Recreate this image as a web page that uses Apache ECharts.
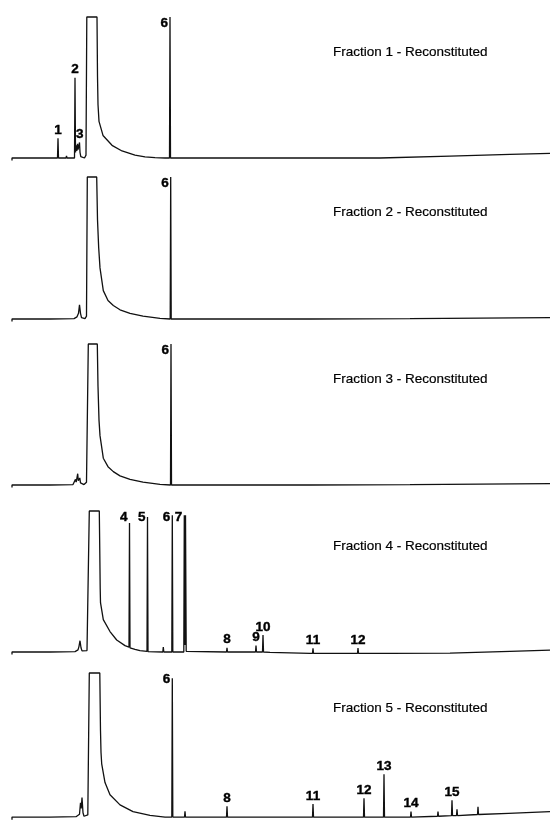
<!DOCTYPE html>
<html>
<head>
<meta charset="utf-8">
<script src="https://cdn.jsdelivr.net/npm/echarts@6/dist/echarts.min.js"></script>
<style>
  html, body { margin: 0; padding: 0; background: #fff; }
  #chart { width: 550px; height: 820px; }
</style>
</head>
<body>
<div id="chart"></div>
<script>
// Gas chromatograms of the five reconstituted fractions.
// x: retention time (min), y: detector response (% of full scale; 100 = off-scale).

const fractionTitles = [
  'Fraction 1 - Reconstituted',
  'Fraction 2 - Reconstituted',
  'Fraction 3 - Reconstituted',
  'Fraction 4 - Reconstituted',
  'Fraction 5 - Reconstituted'
];

const trace1 = [
  [0.2, -1.8], [0.2, 0], [2, 0.1], [4, 0], [4.75, 0], [4.8, 14], [4.85, 0],
  [5.6, 0], [5.65, 1.5], [5.7, 0], [6.45, 0], [6.5, 57], [6.55, 4], [6.62, 9],
  [6.68, 5], [6.75, 10], [6.8, 6], [6.87, 8], [6.95, 11], [7.0, 4], [7.08, 1],
  [7.18, 0], [7.45, 0], [7.6, 2], [7.68, 100], [8.7, 100], [8.75, 58], [8.8, 38],
  [8.9, 26], [9.3, 16], [10.2, 9], [11.2, 5], [12.5, 2], [13.5, 0.8], [14.5, 0.2],
  [15.5, 0], [15.95, 0], [16.0, 100], [16.05, 0], [25, 0], [37, 0], [44, 1.3], [50, 2.5], [54, 3.3]
];

const trace2 = [
  [0.2, -1.8], [0.2, 0], [4, 0], [6.4, 0.3], [6.7, 1.5], [6.85, 4], [6.95, 10],
  [7.05, 4], [7.15, 1], [7.3, 0.3], [7.5, 0.3], [7.65, 2], [7.73, 100], [8.67, 100],
  [8.75, 70], [8.87, 50], [9.0, 36], [9.33, 20], [9.8, 13], [10.33, 9.5], [11, 6.5],
  [12, 4], [13.3, 2], [15, 0.5], [16.02, 0], [16.07, 100], [16.12, 0],
  [30, 0], [40, 0.3], [54, 1]
];

const trace3 = [
  [0.2, -1.8], [0.2, 0], [4, 0], [6.3, 0.3], [6.5, 1], [6.55, 4], [6.62, 2],
  [6.7, 3], [6.77, 8], [6.83, 3], [6.9, 4], [6.98, 5], [7.05, 1.5], [7.15, 0.5],
  [7.4, 0.3], [7.65, 2], [7.83, 100], [8.73, 100], [8.8, 70], [8.9, 46], [9.0, 35],
  [9.33, 19], [9.8, 13], [10.33, 9.5], [11, 6.5], [12, 4], [13.3, 2], [15, 0.5],
  [16.05, 0], [16.1, 100], [16.15, 0], [30, 0], [40, 0.3], [54, 1]
];

const trace4 = [
  [0.2, -1.8], [0.2, 0], [4, 0], [6.5, 0.3], [6.8, 1.5], [6.9, 4], [7.0, 8],
  [7.1, 3], [7.2, 0.8], [7.4, 0.3], [7.7, 1], [7.93, 100], [8.93, 100], [8.98, 70],
  [9.02, 45], [9.05, 35], [9.33, 23], [10, 14.5], [10.67, 8.5], [11.5, 4.5], [11.9, 3.5],
  [11.95, 91.5], [12.0, 3], [12.5, 1.8], [13.0, 1], [13.7, 0.4], [13.75, 95.7],
  [13.8, 0.2], [15.28, 0], [15.33, 3.5], [15.38, 0], [16.18, 0], [16.23, 97], [16.28, 0],
  [17.38, 0], [17.43, 97], [17.5, 5], [17.55, 97], [17.62, 0.5], [17.7, 1.5], [17.8, 0],
  [21.65, 0], [21.7, 3], [21.75, 0], [22.25, 0], [22.3, 0.8], [22.35, 0],
  [24.55, 0], [24.6, 4.5], [24.65, 0], [25.25, 0], [25.3, 12], [25.35, 0],
  [26, -0.3], [30, -1], [30.25, -1], [30.3, 2.6], [30.35, -1], [34.75, -1],
  [34.8, 2.8], [34.85, -1], [38, -1], [44, -0.8], [50, 0.5], [54, 1.3]
];

const trace5 = [
  [0.2, -1.8], [0.2, 0], [4, 0], [6.6, 0.3], [6.95, 2], [7.05, 10], [7.12, 6],
  [7.2, 13.6], [7.3, 3], [7.4, 0.6], [7.6, 0.4], [7.78, 1.5], [7.93, 100], [8.98, 100],
  [9.05, 60], [9.1, 45], [9.17, 37], [9.5, 24], [10, 15.5], [11, 8.5], [12.3, 3.8],
  [14, 1.2], [15.5, 0], [16.18, 0], [16.23, 96.3], [16.28, 0], [17.45, 0], [17.5, 4],
  [17.55, 0], [21.65, 0], [21.7, 7.5], [21.75, 0], [30.25, 0], [30.3, 9], [30.35, 0],
  [35.35, 0], [35.4, 13.1], [35.45, 0], [37.35, 0], [37.4, 29.7], [37.45, 0],
  [40.05, 0], [40.1, 3.9], [40.15, 0], [42.75, 0.6], [42.8, 3.9], [42.85, 0.6],
  [44.15, 1], [44.2, 11.7], [44.25, 1], [44.65, 1.1], [44.7, 5.5], [44.75, 1.1],
  [46.75, 1.8], [46.8, 7.1], [46.85, 1.8], [49.85, 2.6], [49.9, 3.9], [49.95, 2.6],
  [54, 3.8]
];

// Peak numbers: [label, retention time, peak height, side]
const peaks1 = [['1', 4.8, 14, 'top'], ['2', 6.5, 57, 'top'], ['3', 6.98, 11, 'top'], ['6', 16.0, 100, 'left']];
const peaks2 = [['6', 16.07, 100, 'left']];
const peaks3 = [['6', 16.1, 100, 'left']];
const peaks4 = [
  ['4', 11.95, 91.5, 'left'], ['5', 13.75, 95.7, 'left'], ['6', 16.23, 97, 'left'],
  ['7', 17.43, 97, 'left'], ['8', 21.7, 3, 'top'], ['9', 24.6, 4.5, 'top'],
  ['10', 25.3, 12, 'top'], ['11', 30.3, 2.6, 'top'], ['12', 34.8, 2.8, 'top']
];
const peaks5 = [
  ['6', 16.23, 96.3, 'left'], ['8', 21.7, 7.5, 'top'], ['11', 30.3, 9, 'top'],
  ['12', 35.4, 13.1, 'top'], ['13', 37.4, 29.7, 'top'], ['14', 40.1, 3.9, 'top'],
  ['15', 44.2, 11.7, 'top']
];

const traces = [trace1, trace2, trace3, trace4, trace5];
const peakLists = [peaks1, peaks2, peaks3, peaks4, peaks5];

// Panel layout (pixels)
const panelTop = [17, 177, 344, 511, 673];
const panelBase = [158, 319, 485, 652, 818];
const Y_MIN = -2, Y_MAX = 100, X_MAX = 54;
const FONT = '"Liberation Sans", Arial, Helvetica, sans-serif';
const INK = '#000000';

const grid = [], xAxis = [], yAxis = [], series = [], title = [];

traces.forEach((trace, i) => {
  const h = (panelBase[i] - panelTop[i]) * (Y_MAX - Y_MIN) / Y_MAX;
  grid.push({ left: 10, width: 540, top: panelTop[i], height: h });
  xAxis.push({ type: 'value', gridIndex: i, min: 0, max: X_MAX, show: false });
  yAxis.push({ type: 'value', gridIndex: i, min: Y_MIN, max: Y_MAX, show: false });

  series.push({
    type: 'line',
    xAxisIndex: i,
    yAxisIndex: i,
    data: trace,
    symbol: 'none',
    showSymbol: false,
    clip: false,
    lineStyle: { color: '#111', width: 1.3 },
    silent: true
  });

  series.push({
    type: 'scatter',
    xAxisIndex: i,
    yAxisIndex: i,
    symbolSize: 0,
    itemStyle: { color: INK, opacity: 1 },
    silent: true,
    data: peakLists[i].map(([name, t, height, side]) => ({
      value: [t, side === 'left' ? Y_MAX : height],
      label: {
        show: true,
        formatter: name,
        position: side,
        distance: side === 'left' ? 2 : 1,
        offset: side === 'left' ? [0, 6] : [0, 0],
        color: INK,
        opacity: 1,
        fontFamily: FONT,
        fontWeight: 'bold',
        fontSize: 13.5,
        textBorderColor: INK,
        textBorderWidth: 0.4
      }
    }))
  });

  title.push({
    text: fractionTitles[i],
    left: 333,
    top: panelTop[i] + 28,
    padding: 0,
    textStyle: {
      color: INK, fontFamily: FONT, fontWeight: 'normal', fontSize: 13.5,
      textBorderColor: INK, textBorderWidth: 0.2
    }
  });
});

const chart = echarts.init(document.getElementById('chart'), null, { renderer: 'canvas' });
chart.setOption({
  animation: false,
  backgroundColor: '#ffffff',
  title,
  grid,
  xAxis,
  yAxis,
  series
});
</script>
</body>
</html>
